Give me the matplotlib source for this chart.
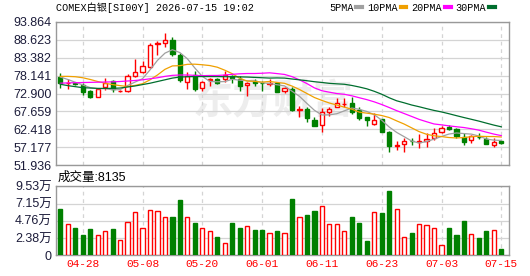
import numpy as np
import pandas as pd
import matplotlib
matplotlib.use('Agg')
import matplotlib.pyplot as plt
from matplotlib.lines import Line2D

# daily candles, last 60 trading days
dates = pd.bdate_range(end='2026-07-15', periods=60)
opens = [77.8, 75.9, 75.95, 75.4, 73.7, 72.0, 74.8, 76.5, 73.5, 73.5,
         78.1, 79.1, 80.5, 87.4, 87.7, 88.5, 84.2, 76.4, 78.3, 74.4,
         76.7, 77.0, 77.0, 78.0, 77.0, 75.3, 76.55, 76.1, 75.8, 75.9,
         73.5, 74.3, 68.2, 68.4, 65.3, 63.7, 67.6, 69.1, 69.7, 70.1,
         68.2, 65.9, 64.1, 65.4, 61.8, 57.6, 58.1, 59.1, 58.8, 59.1,
         59.9, 61.8, 63.2, 62.6, 60.3, 59.3, 60.3, 59.5, 58.0, 59.0]
closes = [75.9, 76.0, 75.8, 73.4, 72.0, 74.3, 76.0, 74.2, 73.65, 78.0,
          79.3, 80.9, 87.1, 87.6, 88.5, 84.3, 76.7, 78.1, 74.1, 76.3,
          77.0, 76.1, 78.4, 77.4, 75.1, 76.05, 75.9, 75.85, 76.1, 73.4,
          74.4, 68.1, 68.35, 65.7, 63.4, 67.6, 68.3, 70.0, 69.9, 67.5,
          65.7, 65.2, 65.3, 61.8, 57.6, 57.8, 59.0, 58.95, 58.9, 59.7,
          61.3, 62.9, 62.5, 60.5, 58.8, 60.5, 60.1, 58.2, 58.8, 58.4]
highs = [78.8, 77.0, 76.4, 75.9, 73.9, 74.5, 77.3, 76.9, 74.0, 78.7,
         82.9, 82.4, 87.5, 88.3, 90.6, 89.5, 84.6, 79.1, 79.5, 76.6,
         77.5, 77.5, 79.5, 78.4, 78.0, 76.35, 77.0, 76.5, 77.0, 76.0,
         74.9, 74.9, 69.2, 69.1, 66.0, 68.6, 69.0, 71.5, 71.5, 71.9,
         69.0, 66.1, 67.1, 65.6, 62.0, 58.9, 59.8, 59.8, 61.1, 61.4,
         62.7, 63.4, 63.7, 62.8, 61.3, 60.8, 61.3, 60.1, 59.8, 59.1]
lows = [74.6, 74.1, 75.3, 72.6, 71.5, 71.9, 73.8, 73.3, 73.4, 73.3,
        77.8, 78.8, 80.2, 84.2, 86.6, 83.9, 76.3, 74.2, 73.7, 73.7,
        75.0, 75.6, 76.4, 76.0, 73.6, 72.2, 75.1, 73.7, 75.1, 73.4,
        72.95, 67.9, 66.1, 64.7, 63.3, 61.8, 66.2, 68.9, 69.0, 67.0,
        65.2, 63.4, 63.8, 61.6, 55.9, 56.5, 55.7, 57.9, 57.0, 57.4,
        59.4, 61.5, 62.1, 59.8, 57.9, 58.5, 59.5, 58.2, 57.4, 58.3]
volumes = [6.40, 4.33, 3.78, 2.81, 3.64, 2.81, 3.31, 3.64, 2.12, 4.60,
           5.99, 3.78, 6.26, 6.12, 5.29, 5.29, 7.64, 5.29, 4.47, 3.78,
           3.36, 2.53, 1.70, 4.47, 3.78, 4.05, 3.50, 3.50, 3.08, 3.36,
           3.08, 7.78, 5.29, 5.62, 6.12, 6.81, 4.33, 4.33, 3.36, 5.29,
           4.47, 1.98, 5.99, 5.85, 8.89, 6.40, 2.53, 3.08, 4.33, 4.19,
           3.78, 1.43, 3.78, 2.81, 4.74, 2.95, 2.39, 3.36, 3.50, 0.8135]  # 万

# moving-average values before the window is full
ma_head = {
    5: [77.7, 77.0, 76.2, 75.4],
    10: [77.9, 77.9, 77.8, 77.5, 77.0, 76.4, 75.9, 75.5, 75.2],
    20: [75.9, 76.0, 76.05, 76.1, 76.15, 76.2, 76.25, 76.3, 76.4, 76.55,
         76.7, 76.9, 77.2, 77.5, 77.9, 78.2, 78.3, 78.3, 78.2],
    30: [75.6, 75.2, 74.9, 74.6, 74.5, 74.4, 74.4, 74.4, 74.5, 74.8,
         75.1, 75.5, 75.9, 76.4, 76.9, 77.4, 77.7, 77.8, 77.85, 77.85,
         77.85, 77.85, 77.8, 77.8, 77.75, 77.7, 77.6, 77.5, 77.4],
}
ma_colors = {5: '#a0a0a0', 10: '#f0a000', 20: '#ff00ff', 30: '#006e2e'}

price_ticks = np.linspace(51.936, 93.864, 9)
vol_ticks = np.linspace(0, 9.53, 5)
vol_labels = ['0', '2.38万', '4.76万', '7.15万', '9.53万']

RED = '#ff0000'
GREEN = '#008000'
GRID = '#d4d4d4'
FRAME = '#999999'
LBL = '#1c1c3a'
CJK = ['Liberation Sans', 'Noto Sans CJK SC', 'DejaVu Sans']
MONO = ['Liberation Mono', 'Noto Sans CJK SC', 'DejaVu Sans']

x = np.arange(len(dates))
o = np.array(opens); c = np.array(closes)
up = c >= o

fig = plt.figure(figsize=(5.3, 2.76), dpi=100)
ax = fig.add_axes([56/530, 1 - 165.3/276, 453/530, 143.6/276])
axv = fig.add_axes([56/530, 1 - 255.3/276, 453/530, 69/276])

# watermark
ax.text(0.48, 0.44, '东方财富', transform=ax.transAxes, ha='center', va='center',
        fontsize=29, fontweight='bold', color='#ededed', family=CJK, zorder=0)

# candles
w = 0.56
for i in x:
    col = RED if up[i] else GREEN
    ax.vlines(i, lows[i], highs[i], color=col, lw=1, zorder=3)
    bot = min(o[i], c[i])
    h = max(abs(c[i] - o[i]), 0.12)
    ax.bar(i, h, w, bottom=bot, facecolor='white' if up[i] else GREEN,
           edgecolor=col, lw=1, zorder=4)

# moving averages
for n, head in ma_head.items():
    vals = pd.Series(closes).rolling(n).mean().to_numpy()
    vals[:len(head)] = head
    ax.plot(x, vals, color=ma_colors[n], lw=0.9, zorder=5)

# volume
axv.bar(x, volumes, w, facecolor=np.where(up, 'white', GREEN),
        edgecolor=np.where(up, RED, GREEN), lw=1, zorder=3)

tick_idx = list(range(len(dates) - 1, -1, -8))[::-1]
for a in (ax, axv):
    a.set_xlim(-0.575, 60.03)
    for s in a.spines.values():
        s.set_color(FRAME)
        s.set_linewidth(1)
    a.tick_params(length=0, pad=3)
    for i in tick_idx:
        a.axvline(i, color=GRID, lw=0.9, ls=(0, (3, 3)), zorder=1)

ax.set_ylim(price_ticks[0], price_ticks[-1])
ax.set_yticks(price_ticks)
ax.set_yticklabels(['%.3f' % v for v in price_ticks], family=CJK, fontsize=9, color=LBL)
ax.set_xticks([])
ax.grid(axis='y', color=GRID, lw=0.9, zorder=1)
ax.set_axisbelow(True)

axv.set_ylim(0, vol_ticks[-1])
axv.set_yticks(vol_ticks)
axv.set_yticklabels(vol_labels, family=CJK, fontsize=9, color=LBL)
axv.set_xticks(tick_idx)
axv.set_xticklabels([dates[i].strftime('%m-%d') for i in tick_idx],
                    family=MONO, fontsize=8, color=RED)
axv.grid(axis='y', color=GRID, lw=0.9, zorder=1)
axv.set_axisbelow(True)

fig.text(56/530, 1 - 8/276, 'COMEX白银[SI00Y] 2026-07-15 19:02', family=MONO,
         fontsize=7.3, va='center', ha='left')
fig.text(58/530, 1 - 178/276, '成交量:%d' % round(volumes[-1] * 10000), family=CJK,
         fontsize=9, va='center', ha='left')

handles = [Line2D([], [], color=ma_colors[n], lw=3, label='%dPMA' % n) for n in ma_head]
fig.legend(handles=handles, ncol=4, markerfirst=False, frameon=False,
           loc='center right', bbox_to_anchor=(500/530, 1 - 8/276),
           prop={'family': MONO, 'size': 7.3}, handlelength=0.55,
           handletextpad=0.3, columnspacing=0.5, borderpad=0)

fig.savefig('out.png', dpi=100)
